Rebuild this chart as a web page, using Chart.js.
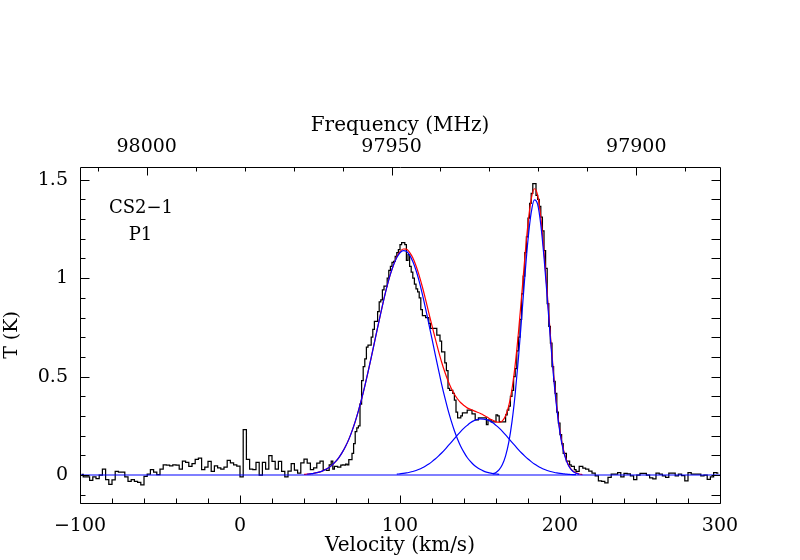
<!DOCTYPE html>
<html>
<head>
<meta charset="utf-8">
<script src="https://cdn.jsdelivr.net/npm/chart.js@4.4.1/dist/chart.umd.min.js"></script>
<style>
html,body{margin:0;padding:0;background:#ffffff;}
#wrap{width:800px;height:560px;}
</style>
</head>
<body>
<div id="wrap"><canvas id="c" width="800" height="560"></canvas></div>
<script>
// ---------------- data ----------------
const velocity = [
-99,-97,-95,-93,-91,-89,-87,-85,-83,-81,-79,-77,-75,-73,-71,-69,-67,-65,-63,-61,
-59,-57,-55,-53,-51,-49,-47,-45,-43,-41,-39,-37,-35,-33,-31,-29,-27,-25,-23,-21,
-19,-17,-15,-13,-11,-9,-7,-5,-3,-1,1,3,5,7,9,11,13,15,17,19,
21,23,25,27,29,31,33,35,37,39,41,43,45,47,49,51,53,55,
56.5,57.5,58.5,59.5,60.5,61.5,62.5,63.5,64.5,65.5,
66.5,67.5,68.5,69.5,70.5,71.5,72.5,73.5,74.5,75.5,
76.5,77.5,78.5,79.5,80.5,81.5,82.5,83.5,84.5,85.5,
86.5,87.5,88.5,89.5,90.5,91.5,92.5,93.5,94.5,95.5,
96.5,97.5,98.5,99.5,100.5,101.5,102.5,103.5,104.5,105.5,
106.5,107.5,108.5,109.5,110.5,111.5,112.5,113.5,114.5,115.5,
116.5,117.5,118.5,119.5,120.5,121.5,122.5,123.5,124.5,125.5,
126.5,127.5,128.5,129.5,130.5,131.5,132.5,133.5,134.5,135.5,
136.5,137.5,138.5,139.5,140.5,141.5,142.5,143.5,144.5,145.5,
146.5,147.5,148.5,149.5,150.5,151.5,152.5,153.5,154.5,155.5,
156.5,157.5,158.5,159.5,160.5,161.5,162.5,163.5,164.5,165.5,
166.5,167.5,168.5,169.5,170.5,171.5,172.5,173.5,174.5,175.5,
176.5,177.5,178.5,179.5,180.5,181.5,182.5,183.5,184.5,185.5,
186.5,187.5,188.5,189.5,190.5,191.5,192.5,193.5,194.5,195.5,
196.5,197.5,198.5,199.5,200.5,201.5,202.5,203.5,204.5,205.5,
206.5,207.5,208.5,209.5,210.5,211.5,212.5,213.5,
215,217,219,221,223,225,227,229,231,233,235,237,239,241,243,245,247,249,251,253,
255,257,259,261,263,265,267,269,271,273,275,277,279,281,283,285,287,289,291,293,
295,297,299
];
const antennaTemp = [
0.003,-0.010,-0.010,-0.027,-0.010,-0.018,0.000,0.030,-0.024,-0.047,
-0.025,0.019,0.014,0.014,-0.010,-0.032,-0.024,-0.032,-0.037,-0.050,
-0.007,0.005,0.027,0.014,0.002,0.030,0.052,0.050,0.047,0.052,
0.050,0.030,0.070,0.064,0.044,0.058,0.080,0.086,0.027,0.040,
0.069,0.019,0.047,0.036,0.030,0.040,0.074,0.061,0.052,0.045,
-0.010,0.230,0.080,0.030,0.027,0.064,0.000,0.064,0.030,0.098,
0.069,0.030,0.069,0.019,-0.010,0.020,0.058,0.025,0.010,0.061,
0.081,0.060,0.027,0.036,0.060,0.070,0.027,0.024,
0.052,0.070,0.030,0.044,0.044,0.040,0.040,0.050,0.052,0.050,
0.055,0.052,0.078,0.078,0.110,0.160,0.220,0.240,0.250,0.360,
0.480,0.550,0.590,0.650,0.660,0.660,0.700,0.740,0.780,0.780,
0.830,0.880,0.890,0.940,0.960,0.960,1.000,1.040,1.060,1.080,
1.085,1.110,1.130,1.145,1.170,1.180,1.180,1.170,1.090,1.120,
1.060,1.030,1.000,0.970,0.945,0.930,0.900,0.840,0.810,0.810,
0.800,0.800,0.770,0.745,0.745,0.745,0.745,0.710,0.710,0.680,
0.625,0.625,0.570,0.530,0.440,0.430,0.430,0.415,0.380,0.320,
0.290,0.290,0.300,0.315,0.315,0.315,0.330,0.330,0.330,0.310,
0.310,0.280,0.280,0.290,0.290,0.290,0.290,0.290,0.256,0.280,
0.280,0.270,0.270,0.270,0.306,0.300,0.270,0.270,0.270,0.270,
0.306,0.330,0.350,0.400,0.430,0.500,0.540,0.630,0.700,0.790,
0.920,1.010,1.130,1.210,1.305,1.380,1.430,1.480,1.480,1.420,
1.400,1.365,1.310,1.240,1.140,1.050,0.870,0.755,0.670,0.550,
0.475,0.415,0.320,0.264,0.205,0.160,0.110,0.110,0.070,0.070,
0.052,0.044,0.044,0.027,0.019,0.019,0.044,0.044,
0.035,0.030,0.020,0.010,-0.005,-0.030,-0.032,-0.040,-0.012,0.005,
0.005,0.012,-0.010,0.008,0.006,-0.005,-0.024,0.000,0.008,0.008,
0.000,-0.015,-0.020,0.010,0.005,-0.005,-0.012,0.010,0.010,-0.005,
0.005,-0.003,-0.030,0.012,0.005,0.005,0.005,-0.005,0.000,-0.022,
-0.010,0.012,0.010
];

// Gaussian components (blue) and their sum (red)
const comp1Velocity = [42,44,46,48,50,52,54,56,58,60,62,64,66,68,70,72,74,76,78,80,
82,84,86,88,90,92,94,96,98,100,102,104,106,108,110,112,114,116,118,120,
122,124,126,128,130,132,134,136,138,140,142,144,146,148,150,152,154,156,158,160,162];
const comp1Temp = [0.004,0.006,0.008,0.012,0.016,0.022,0.030,0.040,0.054,0.070,
0.091,0.116,0.146,0.181,0.223,0.271,0.326,0.386,0.452,0.522,
0.596,0.672,0.749,0.824,0.896,0.962,1.020,1.068,1.105,1.129,
1.140,1.136,1.117,1.085,1.040,0.984,0.918,0.845,0.768,0.691,
0.613,0.536,0.462,0.394,0.331,0.275,0.225,0.182,0.145,0.115,
0.089,0.069,0.052,0.039,0.029,0.021,0.015,0.011,0.007,0.005,0.003];

const comp2Velocity = [98,100,102,104,106,108,110,112,114,116,118,120,122,124,126,128,130,132,134,136,
138,140,142,144,146,148,150,152,154,156,158,160,162,164,166,168,170,172,174,176,
178,180,182,184,186,188,190,192,194,196,198,200,202,204,206,208,210];
const comp2Temp = [0.004,0.006,0.008,0.0105,0.014,0.018,0.023,0.029,0.037,0.046,
0.056,0.068,0.081,0.096,0.112,0.129,0.148,0.166,0.185,0.204,
0.222,0.238,0.252,0.265,0.275,0.281,0.285,0.284,0.281,0.275,
0.265,0.252,0.238,0.222,0.204,0.185,0.166,0.148,0.129,0.112,
0.096,0.081,0.068,0.056,0.046,0.037,0.029,0.023,0.018,0.014,
0.0105,0.008,0.006,0.004,0.003,0.002,0.002];

const comp3Velocity = [158,160,162,164,166,168,170,172,174,176,178,180,182,184,186,188,190,192,194,196,
198,200,202,204,206,208,210,212];
const comp3Temp = [0.006,0.013,0.027,0.053,0.097,0.167,0.271,0.413,0.592,0.796,
1.006,1.195,1.333,1.398,1.376,1.272,1.106,0.903,0.692,0.498,
0.337,0.214,0.128,0.072,0.038,0.019,0.009,0.004];

const fitVelocity = [40,42,44,46,48,50,52,54,56,58,60,62,64,66,68,70,72,74,76,78,
80,82,84,86,88,90,92,94,96,98,100,102,104,106,108,110,112,114,116,118,
120,122,124,126,128,130,132,134,136,138,140,142,144,146,148,150,152,154,156,158,
160,162,164,166,168,170,172,174,176,178,180,182,184,186,188,190,192,194,196,198,
200,202,204,206,208,210,212,214];
const fitTemp = [0.003,0.004,0.006,0.008,0.012,0.016,0.022,0.030,0.040,0.054,
0.070,0.091,0.116,0.146,0.181,0.223,0.271,0.326,0.386,0.452,
0.522,0.596,0.672,0.749,0.824,0.896,0.962,1.020,1.068,1.109,
1.135,1.148,1.147,1.131,1.103,1.063,1.013,0.955,0.891,0.824,
0.759,0.694,0.632,0.574,0.523,0.479,0.441,0.410,0.386,0.367,
0.353,0.341,0.334,0.327,0.320,0.314,0.305,0.296,0.286,0.278,
0.270,0.268,0.275,0.301,0.352,0.437,0.561,0.721,0.908,1.102,
1.276,1.401,1.454,1.422,1.309,1.135,0.926,0.710,0.512,0.348,
0.222,0.134,0.076,0.041,0.021,0.011,0.005,0.002];

const baselineVelocity = [-100, 300];
const baselineTemp = [0, 0];

// axis ticks
const velocityLabels = [-100, 0, 100, 200, 300];
const velocityMinor = [-80,-60,-40,-20,20,40,60,80,120,140,160,180,220,240,260,280];
const freqLabels = [98000, 97950, 97900];
const freqMinor = [98010,97990,97980,97970,97960,97940,97930,97920,97910,97890];
const tempLabels = [0, 0.5, 1, 1.5];
const tempMinor = [-0.1,0.1,0.2,0.3,0.4,0.6,0.7,0.8,0.9,1.1,1.2,1.3,1.4];

const restFreq = 97980.95;      // MHz, CS 2-1
const lightSpeed = 299792.458;  // km/s
const velMin = -100, velMax = 300;
const tMin = -0.1422, tMax = 1.5645;
const freqAtVel = v => restFreq * (1 - v / lightSpeed);

const lineLabel1 = 'CS2\u22121';
const lineLabel2 = 'P1';

// ---------------- chart ----------------
const FONT = 'DejaVu Serif';
Chart.defaults.font.family = FONT;
Chart.defaults.font.size = 19;
Chart.defaults.color = '#000000';

const pts = (xs, ys) => xs.map((x, i) => ({x: x, y: ys[i]}));

const frameAndTicks = {
  id: 'frameAndTicks',
  afterDatasetsDraw(chart) {
    const {ctx, chartArea: a, scales} = chart;
    const L = Math.round(a.left) + 0.5, R = Math.round(a.right) + 0.5;
    const T = Math.round(a.top) + 0.5, B = Math.round(a.bottom) + 0.5;
    ctx.save();
    ctx.strokeStyle = '#000000';
    ctx.lineWidth = 1;
    ctx.beginPath();
    ctx.rect(L, T, R - L, B - T);
    const px = v => Math.round(scales.x.getPixelForValue(v)) + 0.5;
    const pf = f => Math.round(scales.x2.getPixelForValue(f)) + 0.5;
    const py = t => Math.round(scales.y.getPixelForValue(t)) + 0.5;
    velocityLabels.forEach(v => { const x = px(v); ctx.moveTo(x, B); ctx.lineTo(x, B - 8); });
    velocityMinor.forEach(v => { const x = px(v); ctx.moveTo(x, B); ctx.lineTo(x, B - 5); });
    freqLabels.forEach(f => { const x = pf(f); ctx.moveTo(x, T); ctx.lineTo(x, T + 8); });
    freqMinor.forEach(f => { const x = pf(f); ctx.moveTo(x, T); ctx.lineTo(x, T + 4); });
    tempLabels.forEach(t => { const y = py(t); ctx.moveTo(L, y); ctx.lineTo(L + 9, y); ctx.moveTo(R, y); ctx.lineTo(R - 9, y); });
    tempMinor.forEach(t => { const y = py(t); ctx.moveTo(L, y); ctx.lineTo(L + 5, y); ctx.moveTo(R, y); ctx.lineTo(R - 9, y); });
    ctx.stroke();
    ctx.fillStyle = '#000000';
    ctx.font = '18px "' + FONT + '"';
    ctx.textAlign = 'center';
    ctx.textBaseline = 'middle';
    ctx.fillText(lineLabel1, scales.x.getPixelForValue(-61.9), scales.y.getPixelForValue(1.353));
    ctx.fillText(lineLabel2, scales.x.getPixelForValue(-62.2), scales.y.getPixelForValue(1.215));
    ctx.restore();
  }
};

new Chart(document.getElementById('c'), {
  type: 'line',
  data: {
    datasets: [
      { label: 'spectrum', data: pts(velocity, antennaTemp), borderColor: '#000000', borderWidth: 1.25,
        pointRadius: 0, stepped: 'middle', order: 3, xAxisID: 'x', yAxisID: 'y' },
      { label: 'fit', data: pts(fitVelocity, fitTemp), borderColor: '#ff0000', borderWidth: 1.2,
        pointRadius: 0, cubicInterpolationMode: 'monotone', order: 2, xAxisID: 'x', yAxisID: 'y' },
      { label: 'g1', data: pts(comp1Velocity, comp1Temp), borderColor: '#0000ff', borderWidth: 1.2,
        pointRadius: 0, cubicInterpolationMode: 'monotone', order: 1, xAxisID: 'x', yAxisID: 'y' },
      { label: 'g2', data: pts(comp2Velocity, comp2Temp), borderColor: '#0000ff', borderWidth: 1.2,
        pointRadius: 0, cubicInterpolationMode: 'monotone', order: 1, xAxisID: 'x', yAxisID: 'y' },
      { label: 'g3', data: pts(comp3Velocity, comp3Temp), borderColor: '#0000ff', borderWidth: 1.2,
        pointRadius: 0, cubicInterpolationMode: 'monotone', order: 1, xAxisID: 'x', yAxisID: 'y' },
      { label: 'baseline', data: pts(baselineVelocity, baselineTemp), borderColor: '#0000ff', borderWidth: 1.2,
        pointRadius: 0, order: 0, xAxisID: 'x', yAxisID: 'y' }
    ]
  },
  options: {
    responsive: false,
    animation: false,
    events: [],
    layout: { padding: { left: 0, right: 80, top: 0, bottom: 0 } },
    plugins: { legend: { display: false }, tooltip: { enabled: false } },
    scales: {
      x: {
        type: 'linear', position: 'bottom', min: velMin, max: velMax,
        grid: { display: false, drawTicks: false }, border: { display: false },
        afterBuildTicks: s => { s.ticks = velocityLabels.map(v => ({value: v})); },
        ticks: { padding: 11.4, autoSkip: false, maxRotation: 0, minRotation: 0,
                 callback: v => String(v).replace('-', '\u2212') },
        title: { display: true, text: 'Velocity (km/s)', font: { size: 20 }, padding: { top: 0, bottom: 2.2 } },
        afterFit: s => { s.height = 57; }
      },
      x2: {
        type: 'linear', position: 'top', reverse: true,
        min: freqAtVel(velMax), max: freqAtVel(velMin),
        grid: { display: false, drawTicks: false }, border: { display: false },
        afterBuildTicks: s => { s.ticks = freqLabels.map(f => ({value: f})); },
        ticks: { padding: 8.3, autoSkip: false, maxRotation: 0, minRotation: 0, callback: v => String(v) },
        title: { display: true, text: 'Frequency (MHz)', font: { size: 20 }, padding: { top: 113.8, bottom: 0 } },
        afterFit: s => { s.height = 167; }
      },
      y: {
        type: 'linear', position: 'left', min: tMin, max: tMax,
        grid: { display: false, drawTicks: false }, border: { display: false },
        afterBuildTicks: s => { s.ticks = tempLabels.map(t => ({value: t})); },
        ticks: { padding: 12, autoSkip: false, callback: v => String(v) },
        title: { display: true, text: 'T (K)', font: { size: 19 }, padding: { top: 0.5, bottom: 0 } },
        afterFit: s => { s.width = 80; }
      }
    }
  },
  plugins: [frameAndTicks]
});
</script>
</body>
</html>
